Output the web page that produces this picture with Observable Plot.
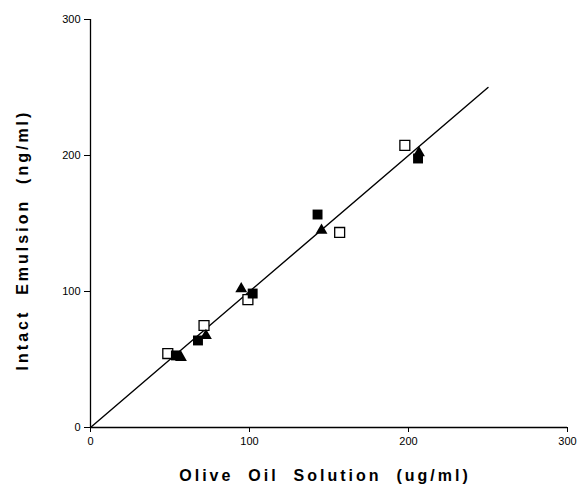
<!DOCTYPE html>
<html><head><meta charset="utf-8">
<script src="https://cdn.jsdelivr.net/npm/d3@7"></script>
<script src="https://cdn.jsdelivr.net/npm/@observablehq/plot@0.6"></script>
<style>body{margin:0;background:#fff}</style>
</head><body><div id="chart"></div>
<script>
const openX = [48.6, 71.4, 99, 156.7, 197.7];
const openY = [54.4, 75, 94, 143.4, 207.4];
const fillSqX = [53.7, 67.6, 102, 142.8, 206];
const fillSqY = [53, 64, 98.5, 156.6, 197.8];
const triX = [56.9, 72.6, 94.8, 145.3, 206.6];
const triY = [51.5, 67.6, 102, 144.9, 202];
const fitX = [0, 250];
const fitY = [0, 250];
const ticks = [0, 100, 200, 300];
const xLabel = "Olive  Oil  Solution  (ug/ml)";
const yLabel = "Intact  Emulsion  (ng/ml)";

const toPts = (xs, ys) => xs.map((x, i) => ({x, y: ys[i]}));
const fit = toPts(fitX, fitY);

const chart = Plot.plot({
  width: 582, height: 488,
  marginLeft: 90, marginRight: 15, marginTop: 19, marginBottom: 61,
  style: {fontFamily: "Liberation Sans, Arial, sans-serif", background: "#fff", color: "#000"},
  x: {domain: [0, 300]},
  y: {domain: [0, 300]},
  marks: [
    Plot.ruleX([0], {y1: 0, y2: 300, stroke: "#000", strokeWidth: 1.3}),
    Plot.ruleY([0], {x1: 0, x2: 300, stroke: "#000", strokeWidth: 1.3}),
    Plot.axisX({ticks, tickSize: 5, tickPadding: 5, fontSize: 11, label: null}),
    Plot.axisY({ticks, tickSize: 6, tickPadding: 4, fontSize: 11, label: null}),
    Plot.line(fit, {x: "x", y: "y", stroke: "#000", strokeWidth: 1.4}),
    Plot.dot(toPts(openX, openY), {x: "x", y: "y", symbol: "square", r: 5.6, fill: "#fff", stroke: "#000", strokeWidth: 1.3}),
    Plot.dot(toPts(triX, triY), {x: "x", y: "y", symbol: "triangle", r: 4.4, fill: "#000", stroke: "none"}),
    Plot.dot(toPts(fillSqX, fillSqY), {x: "x", y: "y", symbol: "square", r: 5.6, fill: "#000", stroke: "none"})
  ]
});
document.getElementById("chart").appendChild(chart);
const svg = d3.select(chart);
const addLabel = (txt, transform) => svg.append("text")
  .attr("transform", transform).attr("text-anchor", "middle")
  .attr("fill", "#000")
  .style("font-family", "Liberation Sans, Arial, sans-serif")
  .style("font-size", "16px").style("font-weight", "bold")
  .style("letter-spacing", "3px").style("white-space", "pre")
  .text(txt);
addLabel(xLabel, "translate(325,481)");
addLabel(yLabel, "translate(28,240) rotate(-90)");
</script>
</body></html>
